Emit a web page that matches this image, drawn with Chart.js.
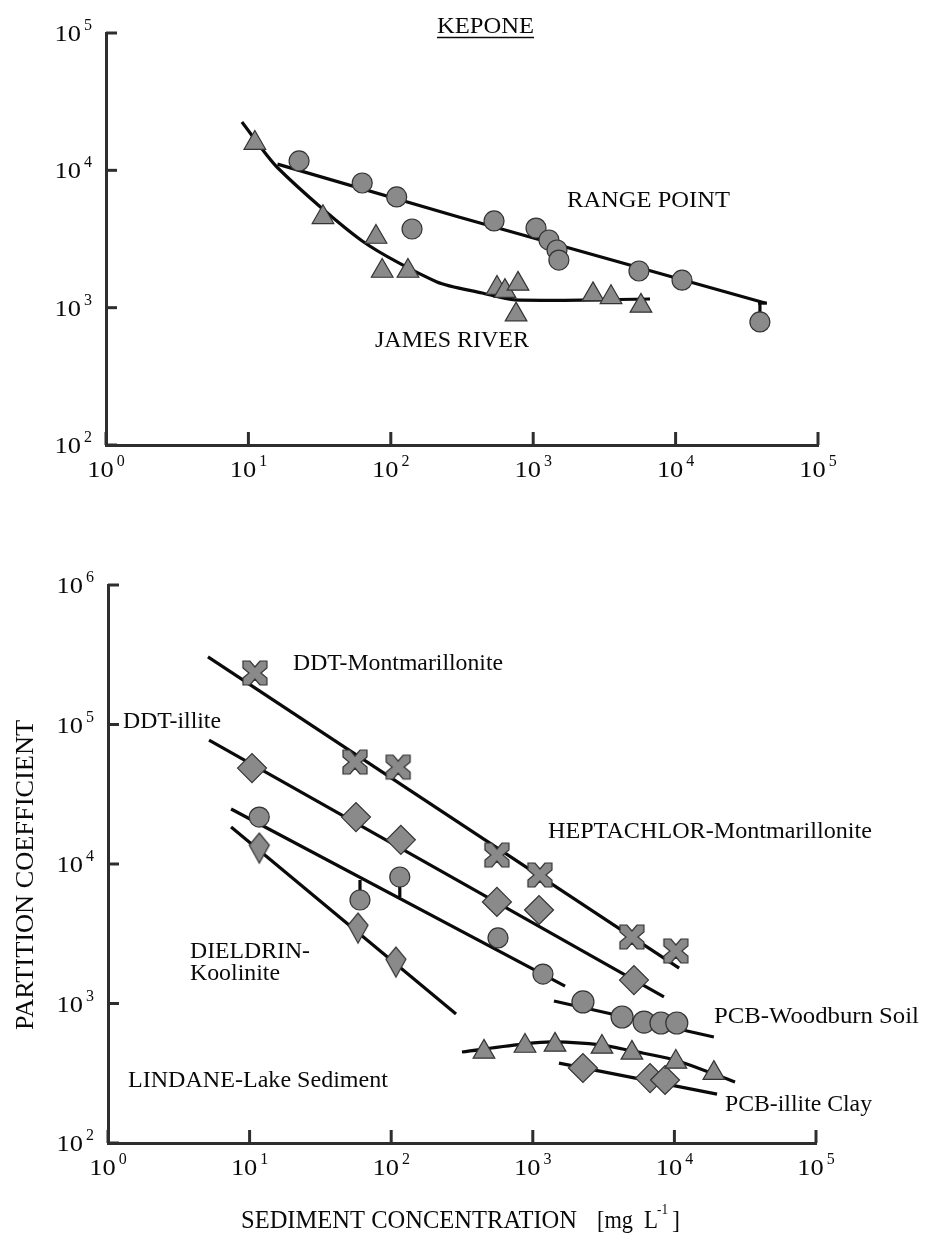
<!DOCTYPE html>
<html><head><meta charset="utf-8">
<script src="https://cdn.jsdelivr.net/npm/chart.js@4.4.0/dist/chart.umd.min.js"></script>
<style>
html,body{margin:0;padding:0;background:#fff;width:925px;height:1236px;overflow:hidden;}
#top{position:absolute;left:0;top:0;width:925px;height:520px;}
#bot{position:absolute;left:0;top:520px;width:925px;height:716px;}
</style></head><body>
<div id="top"><canvas id="c1" width="925" height="520"></canvas></div>
<div id="bot"><canvas id="c2" width="925" height="716"></canvas></div>
<script>
// ---------------- DATA ----------------
// Tick exponents (labels are 10^n)
const xTickExponents = [0, 1, 2, 3, 4, 5];
const topYTickExponents = [2, 3, 4, 5];
const bottomYTickExponents = [2, 3, 4, 5, 6];

// KEPONE panel
const rangePointX = [22.7, 63, 110, 141, 531, 1047, 1290, 1470, 1515, 5530, 11100, 39100];
const rangePointY = [11700, 8090, 6400, 3740, 4280, 3800, 3110, 2630, 2220, 1850, 1585, 787];
const rangeLineX = [16, 300, 42500];
const rangeLineY = [11100, 4570, 1080];
const rangeErrX = [39100, 39100];
const rangeErrY = [787, 1080];
const rangeCapX = [37900, 43800];
const rangeCapY = [1080, 1080];

const jamesRiverX = [11.1, 33.4, 78.7, 87, 132, 557, 633, 782, 758, 2630, 3520, 5710];
const jamesRiverY = [15800, 4550, 3270, 1850, 1850, 1390, 1320, 1490, 890, 1250, 1190, 1030];
const jamesLineX = [9.0, 16.1, 63, 211, 437, 745, 6610];
const jamesLineY = [22500, 10400, 3060, 1540, 1280, 1138, 1156];

// Lower panel
const ddtMontX = [10.9, 55.5, 112, 558, 1122, 5010, 10240];
const ddtMontY = [234000, 53800, 49500, 11600, 8340, 3000, 2380];
const ddtMontLineX = [5.08, 10800];
const ddtMontLineY = [305000, 1795];

const ddtIlliteX = [10.4, 56.4, 117, 558, 1107, 5180];
const ddtIlliteY = [48700, 21700, 14900, 5350, 4680, 1472];
const ddtIlliteLineX = [5.17, 8440];
const ddtIlliteLineY = [77400, 1114];

const dieldrinX = [11.7, 60.2, 115, 568, 1180];
const dieldrinY = [21700, 5520, 8070, 2950, 1626];
const dieldrinLineX = [7.4, 1690];
const dieldrinLineY = [24800, 1334];
const dieldrinErr1X = [60.2, 60.2];
const dieldrinErr1Y = [5520, 7680];
const dieldrinErr2X = [115, 115];
const dieldrinErr2Y = [8070, 5800];

const lindaneX = [11.7, 58.3, 108];
const lindaneY = [13000, 3470, 1980];
const lindaneLineX = [7.4, 287];
const lindaneLineY = [18400, 841];

const pcbWoodX = [2260, 4270, 6100, 8040, 10400];
const pcbWoodY = [1026, 800, 736, 725, 725];
const pcbWoodLineX = [1410, 19000];
const pcbWoodLineY = [1042, 575];

const heptachlorX = [452, 881, 1435, 3080, 5010, 10240, 19000];
const heptachlorY = [450, 496, 505, 488, 443, 381, 317];
const heptachlorLineX = [316, 900, 1390, 3000, 5000, 10000, 26800];
const heptachlorLineY = [449, 515, 530, 505, 457, 394, 274];

const pcbIlliteX = [2260, 6730, 8590];
const pcbIlliteY = [345, 292, 283];
const pcbIlliteLineX = [1530, 20000];
const pcbIlliteLineY = [374, 224];

// ---------------- STYLE / HELPERS ----------------
const FONT = '"Liberation Serif", "Times New Roman", serif';
const FILL = '#8a8a8a';
const EDGE = '#333333';
const INK = '#0a0a0a';
const AXIS = '#2e2e2e';

const pts = (xs, ys) => xs.map((x, i) => ({x: x, y: ys[i]}));

function makeMarker(poly, w, h) {
  const c = document.createElement('canvas');
  c.width = w; c.height = h;
  const g = c.getContext('2d');
  g.translate(w / 2, h / 2);
  g.beginPath();
  poly.forEach((p, i) => i ? g.lineTo(p[0], p[1]) : g.moveTo(p[0], p[1]));
  g.closePath();
  g.fillStyle = FILL; g.fill();
  g.strokeStyle = EDGE; g.lineWidth = 1.2; g.stroke();
  return c;
}
const xMarker = makeMarker([[-12,-12],[-5,-12],[0,-6],[5,-12],[12,-12],[12,-5],[6,0],[12,5],[12,12],[5,12],[0,6],[-5,12],[-12,12],[-12,5],[-6,0],[-12,-5]], 28, 28);
const spadeMarker = makeMarker([[0,-15],[10,-3],[5,6],[0,15],[-5,6],[-10,-3]], 24, 34);

function markerSet(label, xs, ys, style, radius) {
  return {label, data: pts(xs, ys), pointStyle: style, pointRadius: radius,
    pointBackgroundColor: FILL, pointBorderColor: EDGE, pointBorderWidth: 1.2,
    showLine: false, order: 0, clip: false};
}
function lineSet(label, xs, ys, tension) {
  return {label, data: pts(xs, ys), showLine: true, pointRadius: 0, borderColor: INK,
    borderWidth: 3.2, tension: tension || 0, order: 1, clip: false, fill: false};
}

function fitText(ctx, text, x, y, targetW, size) {
  ctx.font = size + 'px ' + FONT;
  const w = ctx.measureText(text).width;
  ctx.save();
  ctx.translate(x, y);
  ctx.scale(targetW / w, 1);
  ctx.fillText(text, 0, 0);
  ctx.restore();
}

function pow10Label(ctx, e, x, y, mode) {
  // mode 'y': right aligned ending at x, centred on y; mode 'x': centred on x, top at y
  ctx.font = '23px ' + FONT;
  const bw = ctx.measureText('10').width * 1.15;
  ctx.font = '16px ' + FONT;
  const ew = ctx.measureText(String(e)).width;
  let bx, by;
  if (mode === 'y') { bx = x - bw - 2 - ew; by = y + 8; }
  else { bx = x - (bw + 3 + ew) / 2; by = y + 15; }
  fitText(ctx, '10', bx, by, bw, 23);
  ctx.font = '16px ' + FONT;
  ctx.fillText(String(e), bx + bw + 3, by - 11);
}

function axesDecor(yExps, labels, offsetY, extra) {
  return {
    id: 'decor',
    afterDraw(chart) {
      const ctx = chart.ctx, a = chart.chartArea;
      const xs = chart.scales.x, ys = chart.scales.y;
      ctx.save();
      ctx.strokeStyle = AXIS; ctx.lineWidth = 3;
      yExps.forEach(e => {
        const py = ys.getPixelForValue(Math.pow(10, e));
        ctx.beginPath(); ctx.moveTo(a.left, py); ctx.lineTo(a.left + 11, py); ctx.stroke();
      });
      xTickExponents.forEach(e => {
        const px = xs.getPixelForValue(Math.pow(10, e));
        ctx.beginPath(); ctx.moveTo(px, a.bottom); ctx.lineTo(px, a.bottom - 13); ctx.stroke();
      });
      ctx.fillStyle = INK;
      ctx.textBaseline = 'alphabetic';
      ctx.textAlign = 'left';
      yExps.forEach(e => pow10Label(ctx, e, a.left - 15, ys.getPixelForValue(Math.pow(10, e)), 'y'));
      xTickExponents.forEach(e => pow10Label(ctx, e, xs.getPixelForValue(Math.pow(10, e)), a.bottom + 17, 'x'));
      labels.forEach(l => fitText(ctx, l.t, l.x, l.y - offsetY, l.w, 24));
      if (extra) extra(ctx, offsetY);
      ctx.restore();
    }
  };
}

function baseOptions(padding, yMax) {
  return {
    responsive: false, animation: false, devicePixelRatio: 1,
    layout: {padding},
    plugins: {legend: {display: false}, tooltip: {enabled: false}},
    scales: {
      x: {type: 'logarithmic', min: 1, max: 1e5,
          grid: {display: false, drawTicks: false}, ticks: {display: false},
          border: {display: true, color: AXIS, width: 3}},
      y: {type: 'logarithmic', min: 100, max: yMax,
          grid: {display: false, drawTicks: false}, ticks: {display: false},
          border: {display: true, color: AXIS, width: 3}}
    }
  };
}

// ---------------- TOP CHART ----------------
const topLabels = [
  {t: 'KEPONE', x: 437, y: 33, w: 97},
  {t: 'RANGE POINT', x: 567, y: 207, w: 163},
  {t: 'JAMES RIVER', x: 375, y: 347, w: 154}
];
new Chart(document.getElementById('c1'), {
  type: 'scatter',
  data: {datasets: [
    markerSet('RANGE POINT', rangePointX, rangePointY, 'circle', 10),
    markerSet('JAMES RIVER', jamesRiverX, jamesRiverY, 'triangle', 12.5),
    lineSet('RANGE POINT fit', rangeLineX, rangeLineY, 0),
    lineSet('JAMES RIVER fit', jamesLineX, jamesLineY, 0.25),
    lineSet('RANGE POINT bar', rangeErrX, rangeErrY, 0),
    lineSet('RANGE POINT cap', rangeCapX, rangeCapY, 0)
  ]},
  options: baseOptions({left: 106, top: 33, right: 107, bottom: 75}, 1e5),
  plugins: [axesDecor(topYTickExponents, topLabels, 0, (ctx) => {
    ctx.strokeStyle = INK; ctx.lineWidth = 1.6;
    ctx.beginPath(); ctx.moveTo(437, 37.5); ctx.lineTo(534, 37.5); ctx.stroke();
  })]
});

// ---------------- BOTTOM CHART ----------------
const bottomLabels = [
  {t: 'DDT-Montmarillonite', x: 293, y: 670, w: 210},
  {t: 'DDT-illite', x: 123, y: 728, w: 98},
  {t: 'HEPTACHLOR-Montmarillonite', x: 548, y: 838, w: 324},
  {t: 'DIELDRIN-', x: 190, y: 958, w: 120},
  {t: 'Koolinite', x: 190, y: 980, w: 90},
  {t: 'LINDANE-Lake Sediment', x: 128, y: 1087, w: 260},
  {t: 'PCB-Woodburn Soil', x: 714, y: 1023, w: 205},
  {t: 'PCB-illite Clay', x: 725, y: 1111, w: 147}
];
new Chart(document.getElementById('c2'), {
  type: 'scatter',
  data: {datasets: [
    markerSet('DDT-Montmarillonite', ddtMontX, ddtMontY, xMarker, 12),
    markerSet('DDT-illite', ddtIlliteX, ddtIlliteY, 'rectRot', 14.5),
    markerSet('DIELDRIN-Koolinite', dieldrinX, dieldrinY, 'circle', 10),
    markerSet('LINDANE-Lake Sediment', lindaneX, lindaneY, spadeMarker, 12),
    markerSet('PCB-Woodburn Soil', pcbWoodX, pcbWoodY, 'circle', 11),
    markerSet('HEPTACHLOR-Montmarillonite', heptachlorX, heptachlorY, 'triangle', 12.5),
    markerSet('PCB-illite Clay', pcbIlliteX, pcbIlliteY, 'rectRot', 14.5),
    lineSet('DDT-Montmarillonite fit', ddtMontLineX, ddtMontLineY, 0),
    lineSet('DDT-illite fit', ddtIlliteLineX, ddtIlliteLineY, 0),
    lineSet('DIELDRIN fit', dieldrinLineX, dieldrinLineY, 0),
    lineSet('LINDANE fit', lindaneLineX, lindaneLineY, 0),
    lineSet('PCB-Woodburn fit', pcbWoodLineX, pcbWoodLineY, 0),
    lineSet('HEPTACHLOR fit', heptachlorLineX, heptachlorLineY, 0.3),
    lineSet('PCB-illite fit', pcbIlliteLineX, pcbIlliteLineY, 0),
    lineSet('DIELDRIN bar 1', dieldrinErr1X, dieldrinErr1Y, 0),
    lineSet('DIELDRIN bar 2', dieldrinErr2X, dieldrinErr2Y, 0)
  ]},
  options: baseOptions({left: 108, top: 65, right: 109, bottom: 93}, 1e6),
  plugins: [axesDecor(bottomYTickExponents, bottomLabels, 520, (ctx, off) => {
    // x-axis title
    fitText(ctx, 'SEDIMENT CONCENTRATION', 241, 1228 - off, 336, 25);
    fitText(ctx, '[mg', 597, 1228 - off, 36, 25);
    fitText(ctx, 'L', 644, 1228 - off, 14, 25);
    fitText(ctx, '-1', 657, 1214 - off, 11, 15);
    fitText(ctx, ']', 672, 1228 - off, 8, 25);
    // y-axis title
    ctx.save();
    ctx.translate(33, 1030 - off);
    ctx.rotate(-Math.PI / 2);
    fitText(ctx, 'PARTITION COEFFICIENT', 0, 0, 310, 25);
    ctx.restore();
  })]
});
</script>
</body></html>
